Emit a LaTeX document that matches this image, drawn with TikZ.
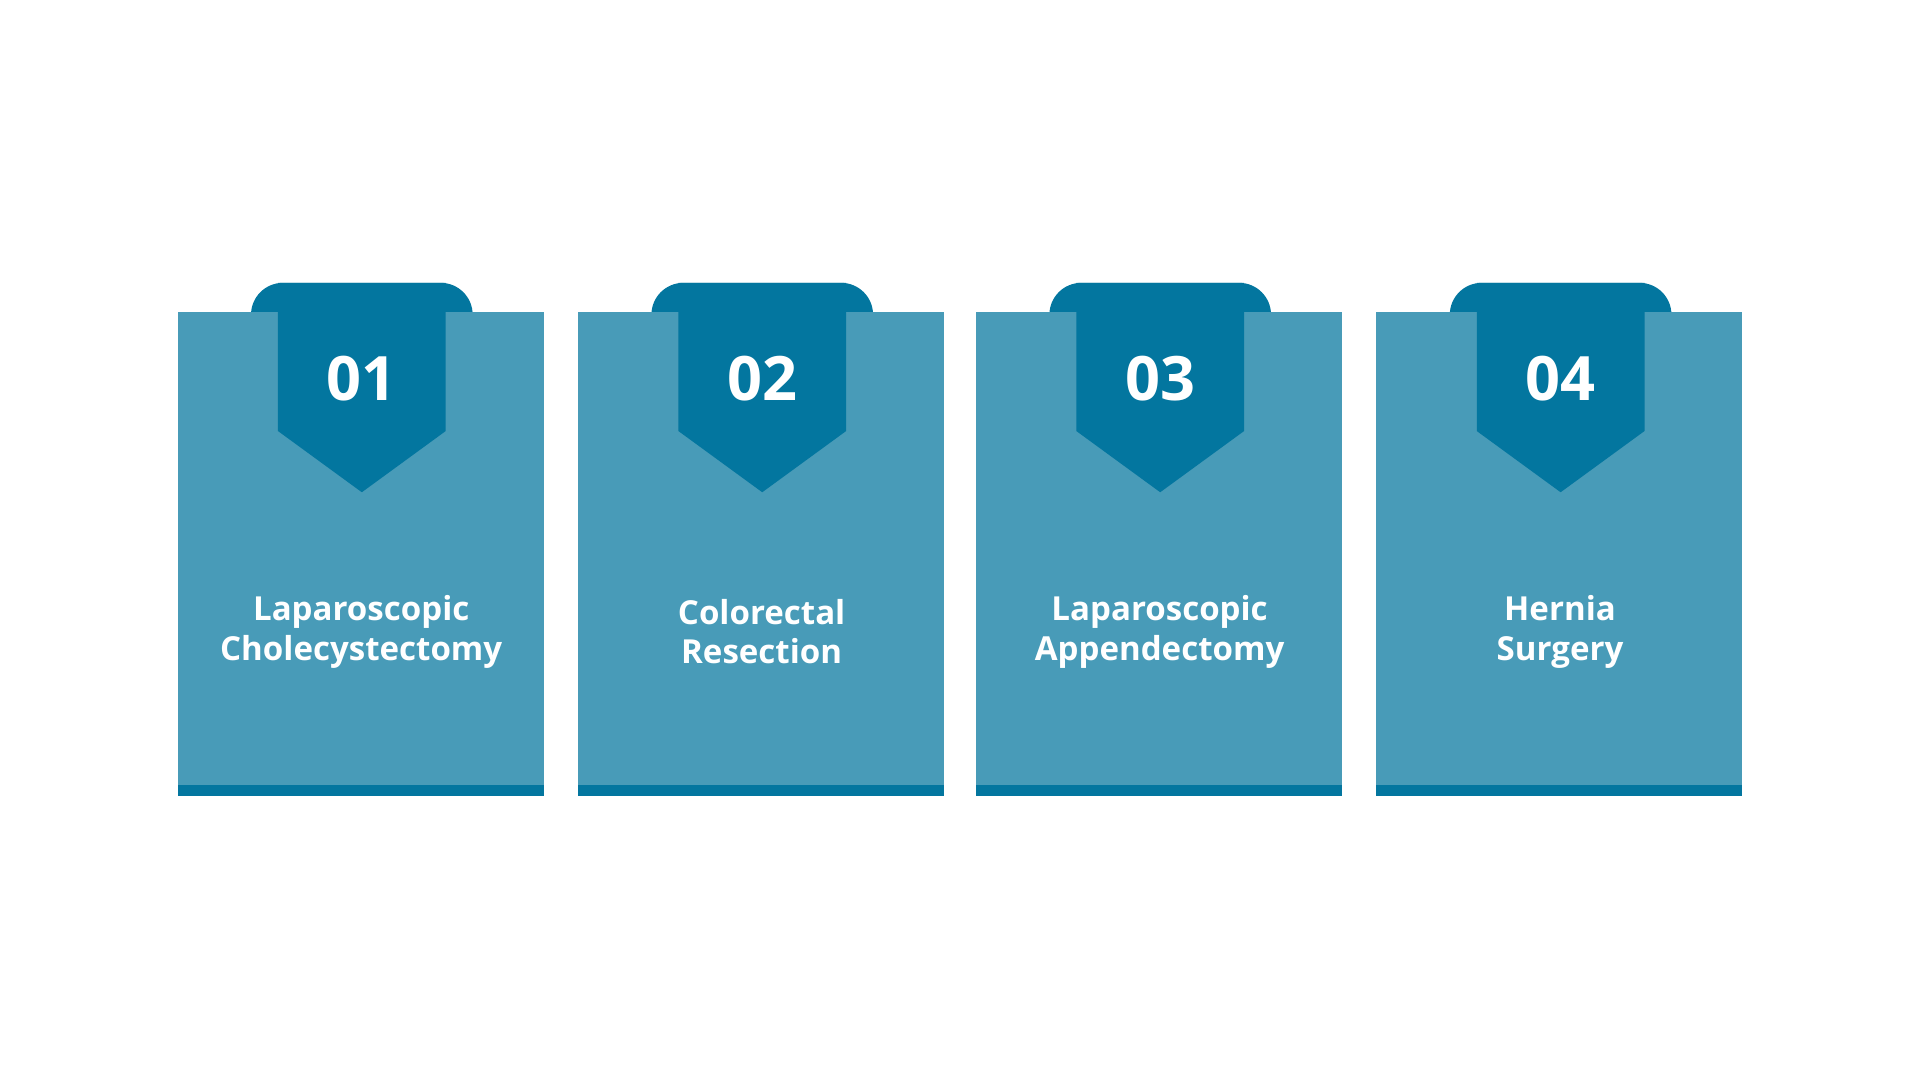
\documentclass[tikz,border=0pt]{standalone}
\usepackage{fontspec}
\setmainfont{Open Sans}
\definecolor{light}{HTML}{489BB8}
\definecolor{dark}{HTML}{03769F}
\begin{document}
\begin{tikzpicture}[x=1pt,y=-1pt,
  lbl/.style={text=white,font=\fontsize{27}{32}\selectfont\bfseries,align=center},
  num/.style={text=white,font=\fontsize{50}{50}\selectfont\bfseries}]
\useasboundingbox (0,0) rectangle (1568,882);
\foreach \x/\n/\t [count=\i] in {145/01/{Laparoscopic\\Cholecystectomy},472/02/{Colorectal\\Resection},797/03/{Laparoscopic\\Appendectomy},1124/04/{Hernia\\Surgery}}{
  \begin{scope}[shift={(\x,0)}]
  \fill[dark,rounded corners=26pt] (60,231) rectangle (241,300);
  \fill[light] (0,255) rectangle (299,650);
  \fill[dark] (0,641) rectangle (299,650);
  \fill[dark] (82,231) -- (219,231) -- (219,352) -- (150.5,402) -- (82,352) -- cycle;
  \node[num] (n\i) at (150.5,309) {\n};
  \node[lbl] (t\i) at (150,516) {\t};
  \end{scope}
}
\end{tikzpicture}
\end{document}
